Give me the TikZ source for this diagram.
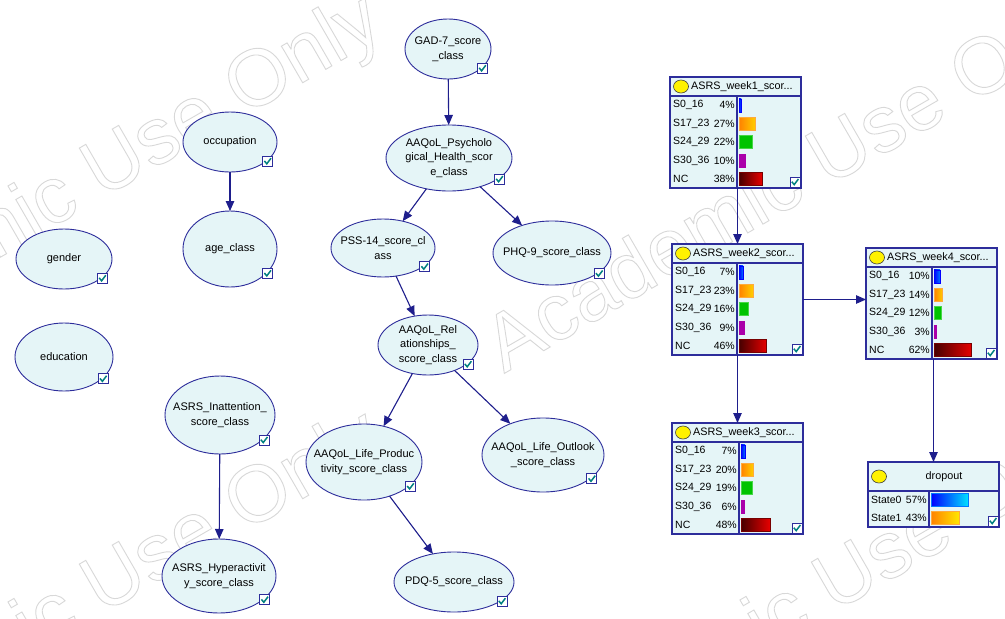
\documentclass[tikz,border=0pt]{standalone}
\usepackage{fontspec}
\setmainfont{Liberation Sans}
\usetikzlibrary{arrows.meta,shapes.geometric}
\definecolor{nv}{RGB}{30,30,140}
\definecolor{ellfill}{RGB}{229,245,247}
\definecolor{ellline}{RGB}{45,45,155}
\definecolor{chk}{RGB}{0,128,128}
\definecolor{wmgray}{RGB}{216,216,216}
\definecolor{bblueL}{RGB}{0,0,255}
\definecolor{bblueR}{RGB}{0,120,255}
\definecolor{borL}{RGB}{255,130,0}
\definecolor{borR}{RGB}{255,205,0}
\definecolor{borD}{RGB}{255,170,60}
\definecolor{bgr}{RGB}{0,195,0}
\definecolor{bgrD}{RGB}{70,215,70}
\definecolor{bpu}{RGB}{170,0,170}
\definecolor{bncL}{RGB}{70,0,0}
\definecolor{bncR}{RGB}{230,0,0}
\definecolor{bncD}{RGB}{120,0,0}
\definecolor{bcyR}{RGB}{0,225,255}
\definecolor{byeR}{RGB}{255,230,0}
\tikzset{
  ell/.style={ellipse, draw=ellline, fill=ellfill, line width=0.9pt, inner sep=0pt, outer sep=0pt},
  elltext/.style={align=center, inner sep=0pt, font=\fontsize{11}{14.5}\selectfont},
  edge/.style={draw=nv, line width=1.1pt, -{Triangle[length=10pt,width=8.5pt]}},
  monbox/.style={rectangle, draw=ellline, fill=ellfill, line width=1.3pt, inner sep=0pt, outer sep=0pt, anchor=north west},
  boxline/.style={draw=ellline, line width=1.2pt},
  bulb/.style={fill=yellow, draw=black!75, line width=0.6pt},
  rowtext/.style={inner sep=0pt, font=\fontsize{10.5}{13}\selectfont},
  titletext/.style={inner sep=0pt, font=\fontsize{10.8}{13}\selectfont},
  wm/.style={rotate=30, text=wmgray, inner sep=0pt, font=\fontsize{80}{80}\selectfont,
    execute at begin node={\special{pdf:literal direct 1 Tr 0.9 w}}},
  bzero/.style={left color=bblueL, right color=bblueR, draw=bblueL, line width=0.4pt},
  borange/.style={left color=borL, right color=borR, draw=borD, line width=0.4pt},
  bgreen/.style={fill=bgr, draw=bgrD, line width=0.4pt},
  bpurple/.style={fill=bpu, draw=bpu, line width=0.4pt},
  bnc/.style={left color=bncL, right color=bncR, draw=bncD, line width=0.4pt},
  bstzero/.style={left color=bblueL, right color=bcyR, draw=bblueR, line width=0.4pt},
  bstone/.style={left color=borL, right color=byeR, draw=borD, line width=0.4pt},
}
\newcommand\ChkBox[2]{%
  \begin{scope}[shift={(#1,#2)}]
    \draw[fill=white, draw=ellline, line width=0.8pt] (-5,-5) rectangle (5,5);
    \draw[draw=chk, line width=1.5pt] (-3.2,-0.3) -- (-0.8,2.6) -- (3.4,-3);
  \end{scope}}
\newcommand\EllNode[6]{%
  \node[ell, minimum width=2*#4, minimum height=2*#5] (#1) at (#2,#3) {};
  \node[elltext] (#1-t) at (#2,#3) {#6};
  \ChkBox{#2+0.8*#4}{#3+0.64*#5}}
\newcommand\MONBOX[7]{%
  \node[monbox, minimum width=#4, minimum height=#5] (#1) at (#2,#3) {};
  \draw[boxline] (#2,#3+#6) -- (#2+#4,#3+#6);
  \draw[boxline] (#2+#7,#3+#6) -- (#2+#7,#3+#5);
  \draw[bulb] (#2+11,#3+#6/2) ellipse [x radius=7.5, y radius=6.5];
  \ChkBox{#2+#4-6}{#3+#5-6}}
\newcommand\MROW[8]{%
  \node[rowtext, anchor=west] (#1l) at (#2+3,#3) {#5};
  \node[rowtext, anchor=east] (#1p) at (#2+#4-2,#3) {#6\%};
  \path[#7] (#2+#4+2,#3-6.5) rectangle ++(#8*#6,13);}
\begin{document}
\begin{tikzpicture}[x=1pt,y=-1pt]
\useasboundingbox (0,0) rectangle (1005,619);
\fill[white] (0,0) rectangle (1005,619);
% watermark
\begin{scope}
\clip (0,0) rectangle (1005,619);
\node[wm] (wmA) at (72,192) {Academic Use Only};
\node[wm] (wmB) at (798,180) {Academic Use Only};
\node[wm] (wmC) at (72,608) {Academic Use Only};
\node[wm] (wmD) at (804,606) {Academic Use Only};
\end{scope}
% ellipse nodes
\EllNode{gad}{448}{49}{43}{30}{GAD-7\_score\\\_class}
\EllNode{occ}{230}{142}{47}{30}{occupation}
\EllNode{age}{230}{249}{47}{38}{age\_class}
\EllNode{gen}{64}{259}{48}{30}{gender}
\EllNode{edu}{64}{357}{49}{34}{education}
\EllNode{psy}{449}{158}{63}{33}{AAQoL\_Psycholo\\gical\_Health\_scor\\e\_class}
\EllNode{pss}{383}{248}{52}{29}{PSS-14\_score\_cl\\ass}
\EllNode{phq}{552}{253}{59}{32}{PHQ-9\_score\_class}
\EllNode{rel}{428}{345}{50}{30}{AAQoL\_Rel\\ationships\_\\score\_class}
\EllNode{inat}{220}{415}{55}{39}{ASRS\_Inattention\_\\score\_class}
\EllNode{prod}{364}{462}{58}{38}{AAQoL\_Life\_Produc\\tivity\_score\_class}
\EllNode{outl}{543}{455}{61}{37}{AAQoL\_Life\_Outlook\\\_score\_class}
\EllNode{hyp}{219}{576}{57}{37}{ASRS\_Hyperactivit\\y\_score\_class}
\EllNode{pdq}{454}{582}{60}{30}{PDQ-5\_score\_class}
% monitor boxes
\MONBOX{w1}{670}{77}{131}{111}{19}{67}
\node[titletext, anchor=west] (w1-title) at (691,86.5) {ASRS\_week1\_scor...};
\foreach \lab/\pc/\st [count=\i] in {S0\_16/4/bzero, S17\_23/27/borange, S24\_29/22/bgreen, S30\_36/10/bpurple, NC/38/bnc}
  {\MROW{w1r\i}{670}{77+19+18.4*\i-9.2}{67}{\lab}{\pc}{\st}{0.6}}
\MONBOX{w2}{672}{244}{131}{111}{19}{65}
\node[titletext, anchor=west] (w2-title) at (693,253.5) {ASRS\_week2\_scor...};
\foreach \lab/\pc/\st [count=\i] in {S0\_16/7/bzero, S17\_23/23/borange, S24\_29/16/bgreen, S30\_36/9/bpurple, NC/46/bnc}
  {\MROW{w2r\i}{672}{244+19+18.4*\i-9.2}{65}{\lab}{\pc}{\st}{0.6}}
\MONBOX{w4}{866}{248}{131}{111}{19}{66}
\node[titletext, anchor=west] (w4-title) at (887,257.5) {ASRS\_week4\_scor...};
\foreach \lab/\pc/\st [count=\i] in {S0\_16/10/bzero, S17\_23/14/borange, S24\_29/12/bgreen, S30\_36/3/bpurple, NC/62/bnc}
  {\MROW{w4r\i}{866}{248+19+18.4*\i-9.2}{66}{\lab}{\pc}{\st}{0.6}}
\MONBOX{w3}{672}{423}{131}{111}{19}{67}
\node[titletext, anchor=west] (w3-title) at (693,432.5) {ASRS\_week3\_scor...};
\foreach \lab/\pc/\st [count=\i] in {S0\_16/7/bzero, S17\_23/20/borange, S24\_29/19/bgreen, S30\_36/6/bpurple, NC/48/bnc}
  {\MROW{w3r\i}{672}{423+19+18.4*\i-9.2}{67}{\lab}{\pc}{\st}{0.6}}
\MONBOX{drop}{868}{462}{131}{65}{29}{61}
\node[titletext] (drop-title) at (944,476.5) {dropout};
\foreach \lab/\pc/\st [count=\i] in {State0/57/bstzero, State1/43/bstone}
  {\MROW{dr\i}{868}{462+29+18*\i-9}{61}{\lab}{\pc}{\st}{0.65}}
% connectors
\draw[edge] (gad) -- (psy);
\draw[edge] (occ) -- (age);
\draw[edge] (psy) -- (pss);
\draw[edge] (psy) -- (phq);
\draw[edge] (pss) -- (rel);
\draw[edge] (rel) -- (prod);
\draw[edge] (rel) -- (outl);
\draw[edge] (prod) -- (pdq);
\draw[edge] (inat) -- (hyp);
\draw[edge] (w2.north |- w1.south) -- (w2.north);
\draw[edge] (w2.east) -- (w2.east -| w4.west);
\draw[edge] (w3.north |- w2.south) -- (w3.north);
\draw[edge] (drop.north |- w4.south) -- (drop.north);
\end{tikzpicture}
\end{document}
